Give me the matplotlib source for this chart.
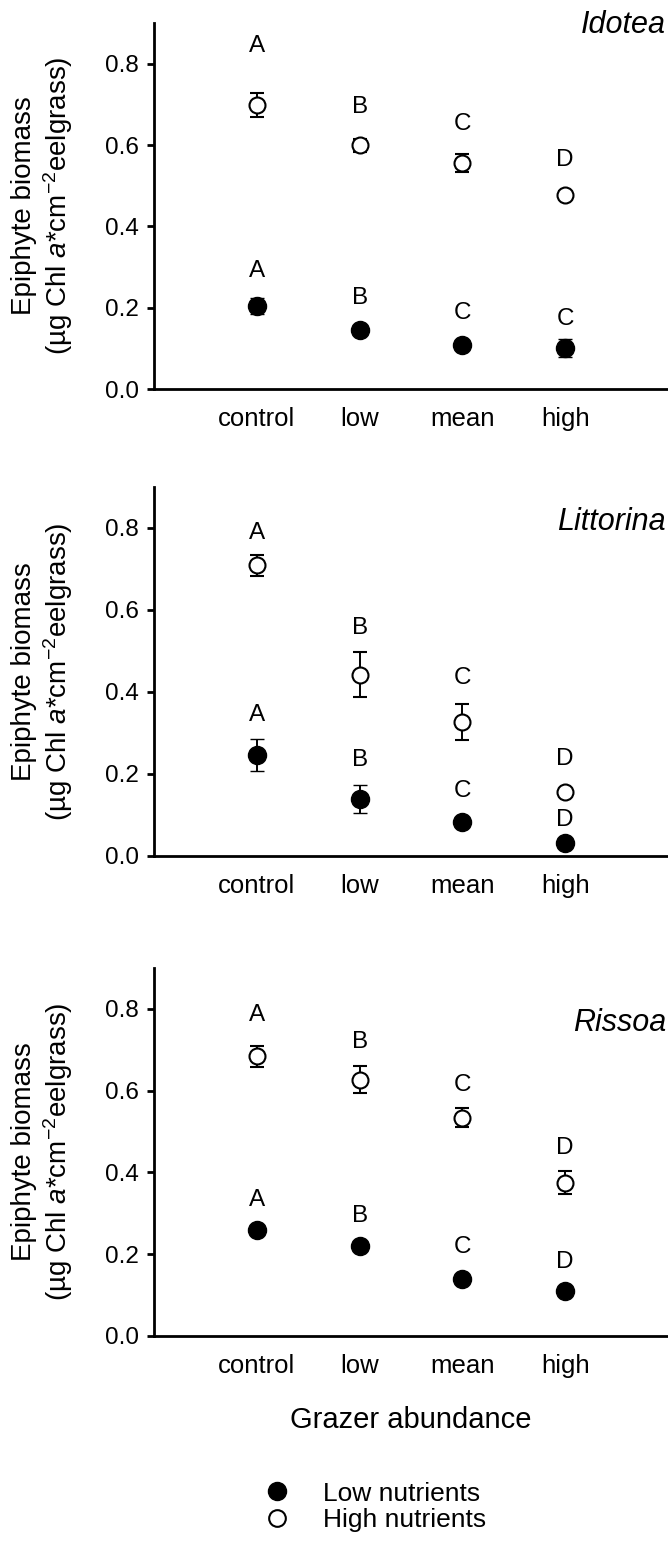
import matplotlib
matplotlib.use("Agg")
import matplotlib.pyplot as plt
from matplotlib.lines import Line2D

plt.rcParams['font.family'] = ['Liberation Sans', 'DejaVu Sans']
plt.rcParams['mathtext.fontset'] = 'custom'
plt.rcParams['mathtext.rm'] = 'Liberation Sans'
plt.rcParams['mathtext.it'] = 'Liberation Sans:italic'

categories = ["control", "low", "mean", "high"]
species = ["Idotea", "Littorina", "Rissoa"]

# High nutrients (open circles): means and SE
high_mean = [
    [0.698, 0.599, 0.555, 0.478],
    [0.709, 0.442, 0.326, 0.155],
    [0.684, 0.627, 0.534, 0.375],
]
high_err = [
    [0.029, 0.015, 0.022, 0.008],
    [0.025, 0.055, 0.044, 0.008],
    [0.025, 0.033, 0.024, 0.028],
]
# Low nutrients (filled circles)
low_mean = [
    [0.204, 0.146, 0.108, 0.100],
    [0.247, 0.139, 0.083, 0.032],
    [0.259, 0.219, 0.140, 0.109],
]
low_err = [
    [0.020, 0.008, 0.010, 0.022],
    [0.039, 0.033, 0.008, 0.008],
    [0.008, 0.008, 0.008, 0.008],
]
# significance letters and their heights
high_letters = [["A", "B", "C", "D"], ["A", "B", "C", "D"], ["A", "B", "C", "D"]]
high_letter_y = [
    [0.844, 0.693, 0.652, 0.562],
    [0.787, 0.555, 0.433, 0.236],
    [0.785, 0.718, 0.614, 0.459],
]
low_letters = [["A", "B", "C", "C"], ["A", "B", "C", "D"], ["A", "B", "C", "D"]]
low_letter_y = [
    [0.290, 0.224, 0.186, 0.173],
    [0.343, 0.233, 0.159, 0.089],
    [0.332, 0.294, 0.218, 0.181],
]
species_y = [0.895, 0.814, 0.765]
yticks = [0.0, 0.2, 0.4, 0.6, 0.8]

W, H = 668, 1543
fig = plt.figure(figsize=(W / 100, H / 100), dpi=100)

# axes pixel boxes: (top, bottom)
boxes = [(23, 389), (487, 856), (968, 1336)]
x_left, x_right = 154, 668
xpos = [1, 2, 3, 4]

ylabel = "Epiphyte biomass\n(µg Chl $\\it{a}$*cm$^{-2}$eelgrass)"

for i, (top, bot) in enumerate(boxes):
    ax = fig.add_axes([x_left / W, 1 - bot / H, (x_right - x_left) / W, (bot - top) / H])
    ax.errorbar(xpos, high_mean[i], yerr=high_err[i], fmt='o', ms=11.5,
                mfc='white', mec='black', mew=1.5, ecolor='black',
                elinewidth=1.4, capsize=4.7, capthick=1.4, zorder=3)
    ax.errorbar(xpos, low_mean[i], yerr=low_err[i], fmt='o', ms=13,
                mfc='black', mec='black', mew=1, ecolor='black',
                elinewidth=1.4, capsize=4.7, capthick=1.4, zorder=3)
    for x, l, y in zip(xpos, high_letters[i], high_letter_y[i]):
        ax.text(x, y, l, ha='center', va='center', fontsize=17.5)
    for x, l, y in zip(xpos, low_letters[i], low_letter_y[i]):
        ax.text(x, y, l, ha='center', va='center', fontsize=17.5)
    ax.text(4.98, species_y[i], species[i], ha='right', va='center',
            fontsize=22, style='italic')
    ax.set_xlim(0, 5)
    ax.set_ylim(0, 0.9)
    ax.set_yticks(yticks)
    ax.set_yticklabels([f"{v:.1f}" for v in yticks])
    ax.set_xticks(xpos)
    ax.set_xticklabels(categories)
    for s in ['top', 'right']:
        ax.spines[s].set_visible(False)
    for s in ['left', 'bottom']:
        ax.spines[s].set_linewidth(2.0)
    ax.tick_params(axis='y', length=5, width=2.0, pad=6, labelsize=17.5)
    ax.tick_params(axis='x', length=0, pad=13, labelsize=18.5)
    fig.text(43 / W, 1 - ((top + bot) / 2) / H, ylabel, rotation=90,
             ha='center', va='center', fontsize=20, multialignment='center',
             linespacing=1.2)

fig.text(411 / W, 1 - 1420 / H, "Grazer abundance", ha='center', va='center', fontsize=21)

handles = [
    Line2D([], [], ls='none', marker='o', ms=13, mfc='black', mec='black'),
    Line2D([], [], ls='none', marker='o', ms=12, mfc='white', mec='black', mew=1.5),
]
fig.legend(handles, ["Low nutrients", "High nutrients"], loc='center left',
           bbox_to_anchor=(264 / W, 1 - 1507 / H), frameon=False, fontsize=19,
           handlelength=1.0, handletextpad=1.24, borderpad=0, borderaxespad=0,
           labelspacing=0.1, numpoints=1)

fig.savefig("out.png", dpi=100)
